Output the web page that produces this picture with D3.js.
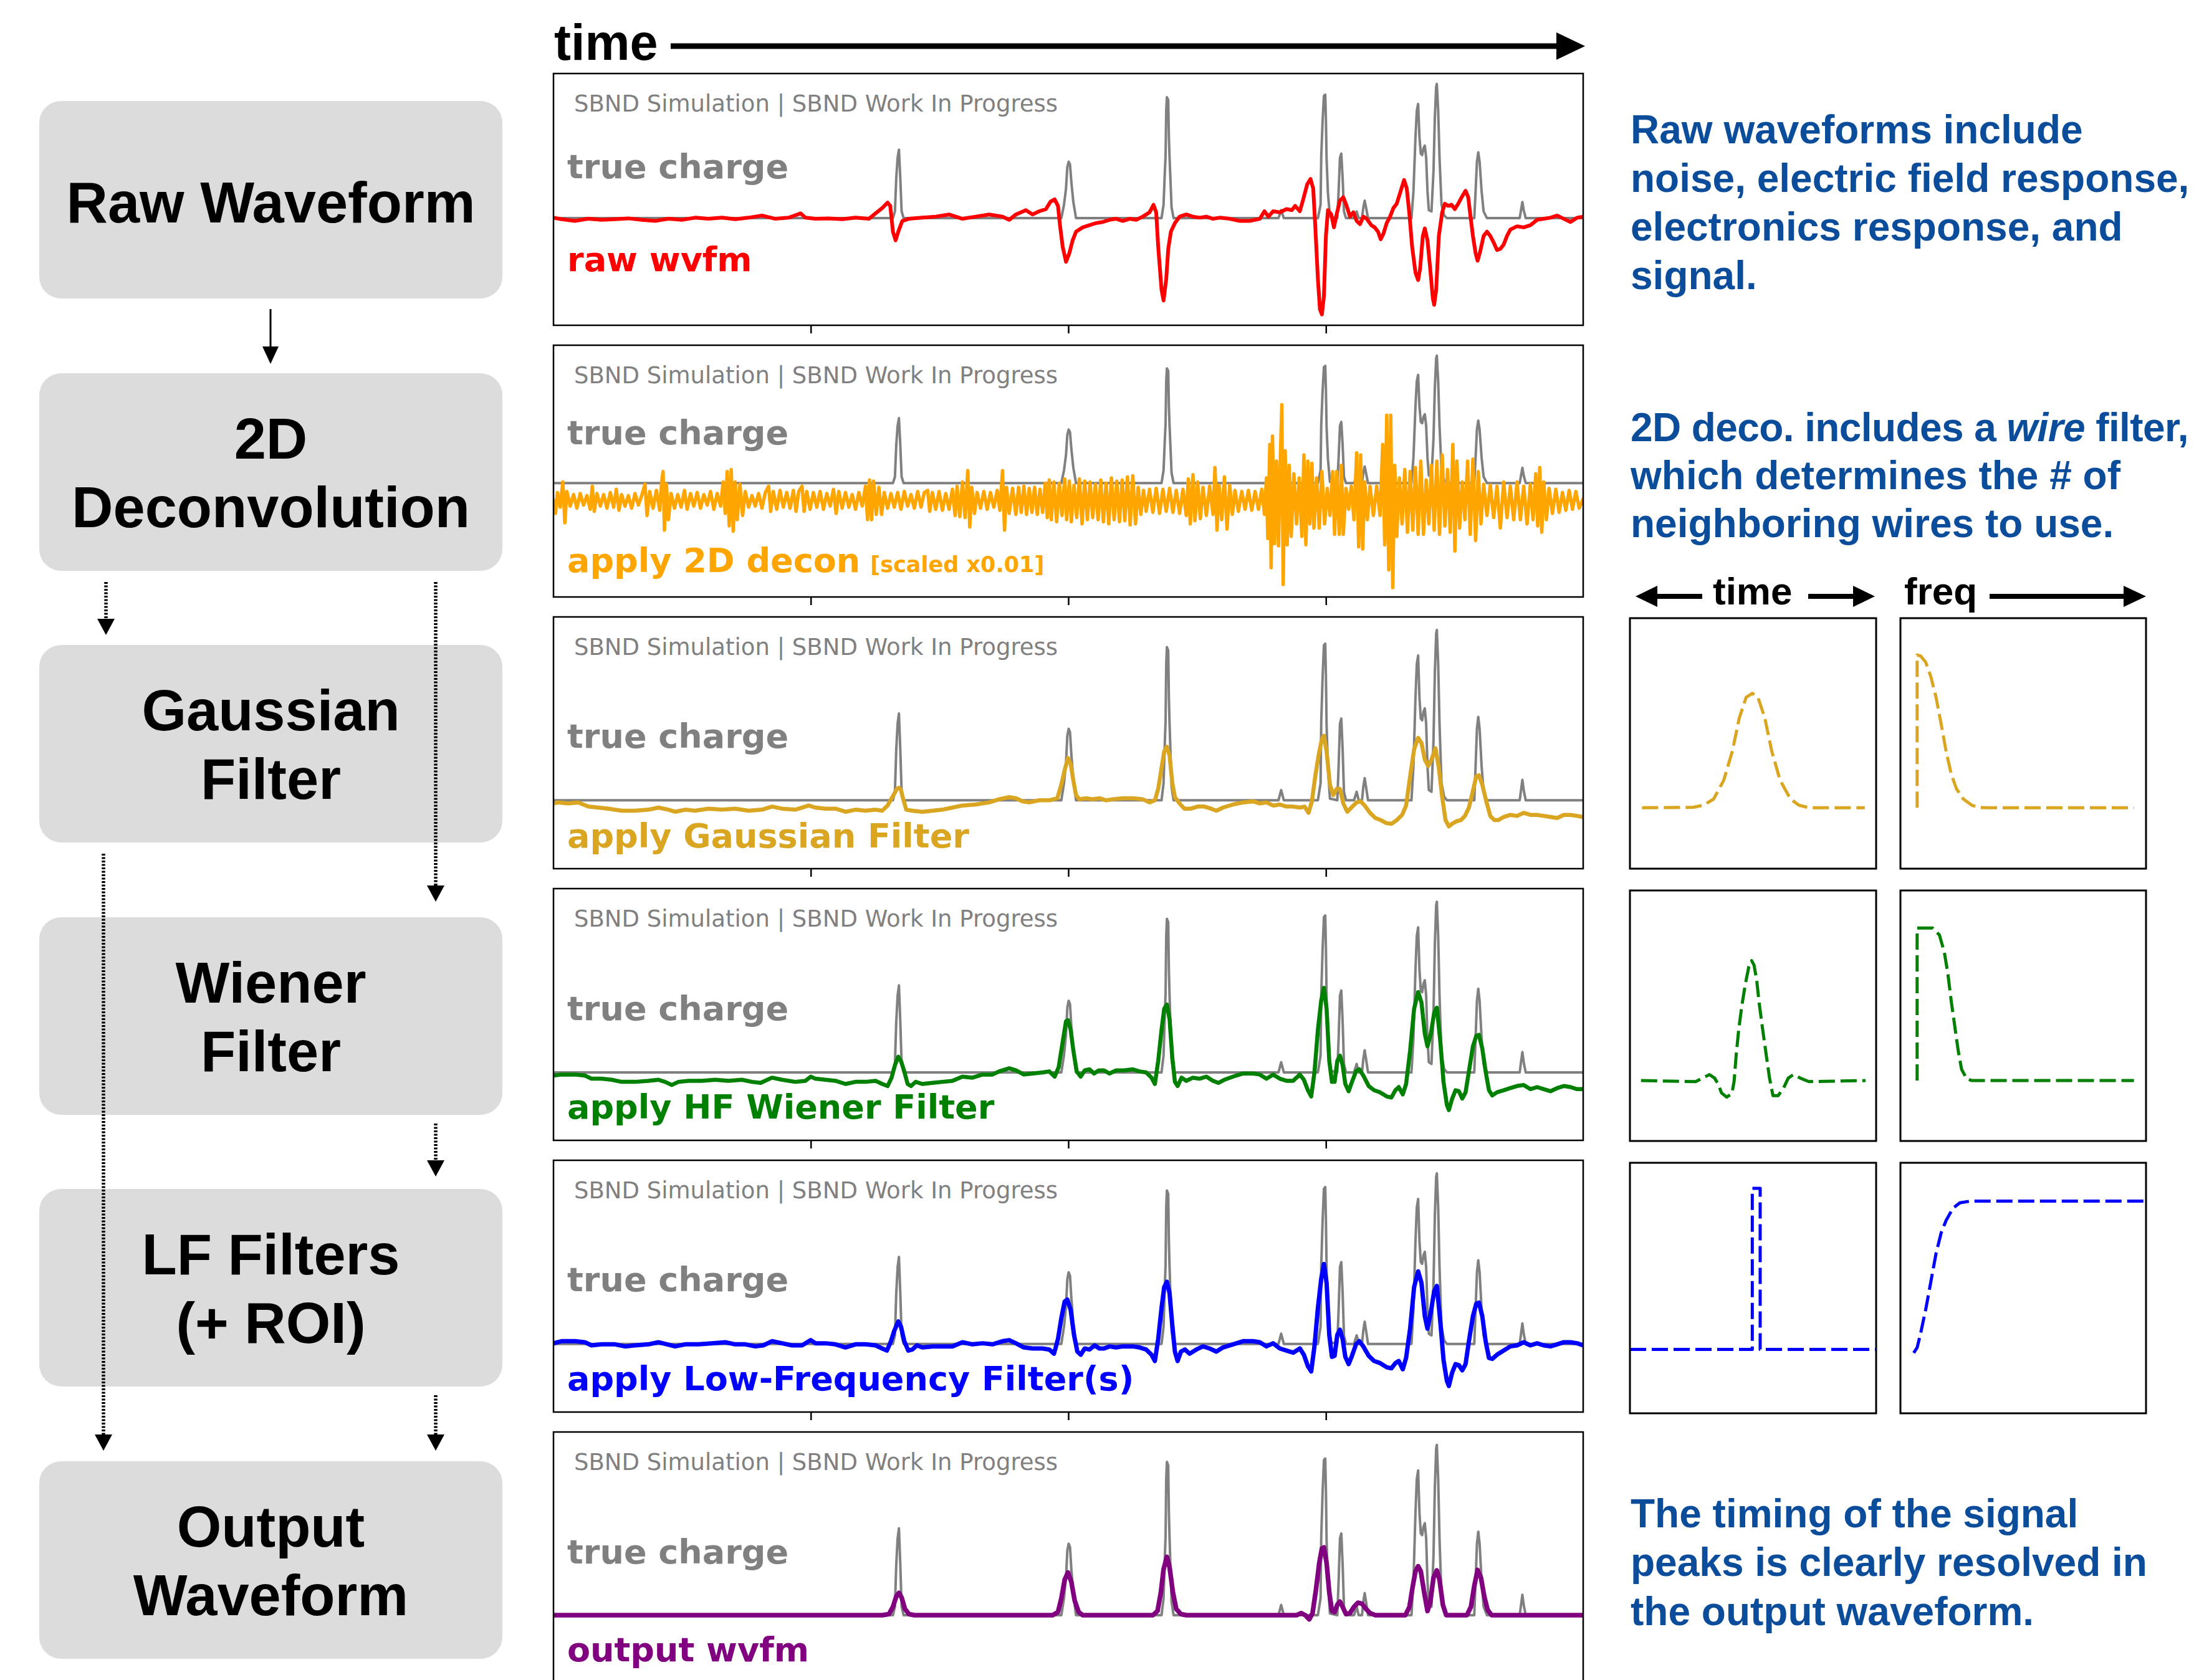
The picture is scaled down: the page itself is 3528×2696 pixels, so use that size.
<!DOCTYPE html>
<html><head><meta charset="utf-8">
<script src="https://cdn.jsdelivr.net/npm/d3@7"></script>
<style>body{margin:0;background:#fff}svg{display:block}</style>
</head><body>
<svg id="c" width="3528" height="2696"></svg>
<script>
// ---------------- DATA ----------------
const timeDomain = [8, 1549];
const timeTicks = [393, 778.5, 1164];

// true charge (normalised, tallest deposit = 1)
const trueCharge = [
[8,0],[516,0],[519,0.05],[521,0.3],[523,0.45],[525,0.51],[527,0.3],[529,0.05],[532,0],
[768,0],[772,0.1],[775,0.22],[777,0.38],[779,0.42],[781,0.40],[783,0.27],[786,0.12],[790,0],
[918,0],[921,0.1],[923,0.35],[924,0.46],[925,0.8],[926,0.9],[928,0.88],[929,0.6],[930,0.45],[933,0.08],[936,0],
[1093,0],[1097,0.06],[1101,0],
[1152,0],[1156,0.1],[1157,0.46],[1159,0.72],[1161,0.91],[1163,0.92],[1164,0.73],[1165,0.44],[1167,0.19],[1170,0.01],
[1181,0],[1183,0.2],[1185,0.45],[1187,0.48],[1189,0.3],[1191,0.05],[1194,0],
[1206,0],[1210,0.05],[1213,0],[1218,0],[1220,0.08],[1222,0.13],[1224,0.08],[1227,0],
[1292,0],[1295,0.2],[1298,0.6],[1300,0.8],[1302,0.85],[1304,0.6],[1306,0.48],[1308,0.47],[1310,0.52],[1312,0.54],[1314,0.45],[1316,0.2],[1318,0.06],[1322,0.05],[1325,0.35],[1327,0.75],[1329,0.98],[1330,1.0],[1332,0.8],[1334,0.45],[1337,0.1],[1341,0.02],[1345,0],
[1386,0],[1388,0.2],[1390,0.42],[1392,0.49],[1394,0.42],[1397,0.2],[1400,0.05],[1405,0],
[1454,0],[1456,0.06],[1458,0.12],[1460,0.06],[1463,0],[1549,0]
];

const rawWvfm = [
[8,2],[20,-5],[40,-13],[60,-3],[80,-8],[100,-5],[120,-1],[140,-8],[160,-13],[180,-3],[200,-8],[220,2],[240,-3],[260,2],[280,-5],[300,2],[320,12],[340,-3],[360,2],[378,22],[385,2],[400,-3],[420,-1],[440,-5],[460,2],[480,-3],[490,22],[500,47],[508,72],[512,57],[516,-63],[520,-103],[524,-63],[530,-13],[540,-3],[560,2],[580,7],[600,17],[620,-3],[640,7],[660,17],[680,7],[690,-8],[700,17],[715,37],[725,17],[735,32],[745,42],[752,77],[758,87],[763,57],[766,-33],[770,-133],[775,-203],[780,-163],[785,-103],[790,-63],[800,-43],[810,-33],[820,-23],[830,-18],[840,-8],[850,-3],[860,-13],[870,-3],[880,-8],[890,7],[900,27],[906,62],[910,27],[913,-133],[918,-333],[921,-383],[925,-283],[928,-143],[932,-63],[938,-23],[945,7],[955,17],[965,7],[975,2],[985,7],[995,-3],[1005,2],[1020,-3],[1035,-13],[1050,-13],[1065,-3],[1072,32],[1078,7],[1085,32],[1095,27],[1105,42],[1113,37],[1118,57],[1125,32],[1130,87],[1136,157],[1141,182],[1145,137],[1148,-33],[1152,-283],[1155,-423],[1158,-448],[1161,-363],[1164,-83],[1167,37],[1172,17],[1176,-43],[1180,17],[1185,82],[1190,97],[1195,57],[1200,7],[1205,27],[1210,-13],[1215,-28],[1220,7],[1225,-3],[1232,-33],[1237,-43],[1242,-63],[1246,-98],[1250,-73],[1255,-23],[1260,7],[1265,47],[1270,67],[1275,117],[1281,177],[1285,137],[1289,17],[1293,-133],[1298,-253],[1302,-288],[1305,-233],[1309,-83],[1312,-48],[1316,-103],[1320,-233],[1324,-373],[1326,-403],[1329,-333],[1333,-83],[1338,27],[1342,67],[1347,57],[1352,62],[1357,42],[1362,67],[1368,102],[1373,127],[1377,97],[1380,17],[1384,-83],[1388,-163],[1391,-198],[1395,-153],[1400,-83],[1405,-63],[1410,-83],[1415,-113],[1420,-148],[1425,-143],[1430,-123],[1435,-83],[1440,-53],[1450,-38],[1460,-43],[1470,-33],[1480,-8],[1490,-3],[1500,2],[1510,12],[1520,-3],[1530,-18],[1540,2],[1549,7]
];

const deconWvfm = [
[8,-80],[11,-145],[14,-45],[18,-115],[22,5],[25,-190],[28,-40],[33,-110],[38,-55],[43,-120],[48,-50],[53,-105],[58,-60],[63,-125],[66,-15],[69,-135],[73,-50],[78,-110],[83,-55],[88,-120],[93,-45],[98,-115],[102,-30],[106,-130],[110,-55],[115,-110],[120,-60],[125,-120],[130,-50],[135,-105],[140,-60],[145,-5],[148,-155],[152,-40],[157,-120],[162,-35],[167,-130],[170,10],[172,55],[174,-225],[177,-5],[180,-175],[184,-50],[189,-120],[194,-55],[199,-115],[204,-35],[208,-125],[213,-50],[218,-110],[223,-45],[228,-120],[233,-55],[238,-105],[243,-40],[248,-125],[253,-50],[258,-110],[262,5],[265,-145],[268,55],[271,-205],[274,65],[277,-230],[280,5],[283,-175],[287,-5],[291,-155],[295,-40],[300,-115],[305,-60],[310,-110],[315,-50],[320,-120],[325,-45],[330,-15],[333,-135],[337,-40],[342,-125],[347,-35],[352,-115],[357,-45],[362,-120],[367,-35],[371,-135],[375,-40],[380,-15],[383,-135],[387,-40],[392,-125],[397,-45],[402,-115],[407,-40],[412,-125],[417,-50],[422,-110],[427,-30],[431,-145],[435,-40],[440,-120],[445,-45],[450,-115],[455,-55],[460,-125],[465,-45],[470,-110],[475,-15],[478,-175],[481,15],[484,-175],[487,10],[491,-150],[495,-20],[499,-150],[503,-45],[508,-120],[513,-50],[518,-115],[523,-45],[528,-125],[533,-40],[538,-110],[543,-55],[548,-120],[553,-40],[558,-115],[563,-45],[568,-35],[571,-135],[575,-45],[580,-125],[585,-40],[590,-130],[595,-50],[600,-125],[605,-30],[609,-155],[612,-15],[616,-160],[620,5],[624,-165],[628,60],[631,-210],[634,-20],[638,-145],[642,-45],[647,-120],[652,-40],[657,-125],[662,-45],[667,-115],[672,-35],[676,-130],[680,60],[683,-225],[686,-20],[690,-145],[695,-25],[700,-150],[704,-20],[708,-140],[712,-15],[716,-150],[720,-25],[724,-140],[728,-20],[732,-150],[736,-30],[740,-140],[744,0],[747,-165],[750,15],[753,-175],[757,5],[761,-185],[765,0],[769,-155],[773,20],[776,-175],[780,10],[783,-185],[787,-10],[791,-165],[795,20],[799,-195],[803,10],[807,-175],[811,5],[815,-165],[819,-5],[823,-175],[827,15],[831,-185],[835,0],[839,-195],[843,25],[847,-175],[851,10],[855,-185],[859,15],[863,-180],[867,30],[871,-200],[875,35],[879,-195],[883,-20],[887,-150],[891,-35],[895,-135],[900,-30],[905,-140],[910,-25],[915,-145],[920,-30],[925,-135],[930,-25],[935,-140],[940,-35],[945,-145],[950,-30],[955,-155],[958,20],[961,-195],[965,40],[968,-180],[972,5],[976,-170],[980,-20],[985,-155],[990,-15],[995,-150],[998,75],[1001,-225],[1004,-10],[1008,-175],[1012,30],[1016,-220],[1020,-10],[1024,-150],[1028,-35],[1033,-135],[1038,-40],[1043,-125],[1048,-35],[1053,-130],[1058,-40],[1063,-125],[1068,-30],[1072,-150],[1075,25],[1077,-265],[1080,185],[1082,-405],[1084,225],[1087,-290],[1090,105],[1093,-300],[1096,145],[1098,375],[1100,-485],[1103,155],[1106,-295],[1109,85],[1112,-255],[1116,45],[1120,-195],[1124,25],[1128,-255],[1131,135],[1134,-295],[1137,105],[1140,-195],[1143,95],[1146,-215],[1150,25],[1154,-215],[1158,55],[1162,-195],[1166,-25],[1170,-155],[1174,55],[1177,-245],[1180,55],[1184,-245],[1187,85],[1190,-245],[1194,-25],[1198,-125],[1202,-15],[1206,-175],[1210,145],[1213,-305],[1216,135],[1219,-315],[1222,5],[1226,-175],[1230,-15],[1235,-155],[1240,-15],[1245,-155],[1249,185],[1252,-295],[1255,325],[1258,-415],[1261,325],[1264,-500],[1267,85],[1270,-255],[1274,25],[1278,-195],[1282,65],[1286,-235],[1290,55],[1294,-225],[1298,75],[1302,-245],[1306,105],[1310,-245],[1314,15],[1318,-195],[1322,85],[1326,-225],[1330,105],[1334,-245],[1338,135],[1342,-205],[1346,65],[1350,-235],[1354,185],[1357,-325],[1360,105],[1364,-215],[1368,5],[1372,-175],[1376,105],[1380,-245],[1384,115],[1388,-275],[1392,55],[1396,-195],[1400,-5],[1405,-155],[1410,-10],[1415,-165],[1420,-15],[1425,-215],[1430,5],[1435,-165],[1440,-15],[1445,-175],[1450,5],[1455,-175],[1460,-15],[1465,-195],[1470,-5],[1474,-175],[1478,45],[1481,-205],[1484,75],[1487,-235],[1490,5],[1494,-175],[1498,-25],[1503,-145],[1508,-30],[1513,-140],[1518,-45],[1523,-130],[1528,-35],[1533,-125],[1538,-40],[1543,-120],[1549,-75]
];

const gaussWvfm = [
[8,-15],[15,-10],[30,-15],[45,-10],[60,-30],[75,-35],[90,-40],[110,-50],[130,-50],[150,-45],[165,-35],[180,-45],[190,-55],[205,-45],[220,-50],[240,-40],[260,-45],[280,-40],[300,-50],[320,-45],[335,-30],[350,-40],[370,-45],[390,-25],[400,-35],[415,-40],[430,-40],[445,-55],[460,-45],[475,-50],[490,-45],[500,-50],[508,-25],[515,15],[522,55],[525,60],[528,50],[531,10],[536,-45],[545,-50],[560,-55],[575,-50],[590,-45],[605,-35],[620,-25],[640,-20],[660,-10],[675,5],[690,15],[700,10],[710,-5],[720,-10],[735,0],[750,0],[762,10],[768,75],[773,145],[778,203],[782,175],[786,95],[790,25],[795,5],[805,10],[815,5],[825,10],[835,0],[845,5],[860,10],[875,10],[890,5],[900,-10],[908,0],[913,55],[918,155],[922,235],[926,257],[930,215],[934,85],[938,15],[945,-15],[952,-40],[962,-40],[972,-30],[982,-30],[992,-40],[1000,-50],[1010,-35],[1025,-20],[1040,-10],[1055,-5],[1065,-15],[1075,-10],[1085,-25],[1095,-20],[1105,-30],[1115,-30],[1125,-35],[1132,-30],[1138,-60],[1143,-5],[1148,115],[1153,215],[1158,295],[1161,310],[1165,235],[1170,75],[1175,25],[1180,55],[1185,55],[1190,-15],[1196,-55],[1202,-35],[1210,-10],[1216,-5],[1222,-25],[1230,-60],[1238,-85],[1246,-95],[1255,-110],[1262,-113],[1270,-95],[1278,-70],[1284,-25],[1290,115],[1296,245],[1302,300],[1307,275],[1312,195],[1317,165],[1322,195],[1328,250],[1333,155],[1338,15],[1343,-95],[1348,-125],[1354,-110],[1360,-100],[1366,-95],[1372,-75],[1378,-35],[1384,45],[1389,115],[1393,120],[1398,75],[1404,-5],[1410,-75],[1416,-95],[1422,-95],[1430,-80],[1440,-70],[1450,-75],[1460,-60],[1470,-70],[1480,-70],[1490,-75],[1500,-80],[1510,-85],[1520,-70],[1530,-70],[1540,-75],[1549,-80]
];

const wienerWvfm = [
[8,-15],[20,-10],[40,-10],[55,-15],[65,-30],[80,-30],[95,-35],[110,-45],[130,-45],[150,-40],[165,-35],[175,-45],[185,-60],[195,-45],[210,-40],[230,-40],[250,-35],[270,-40],[290,-35],[305,-45],[318,-50],[335,-25],[350,-35],[370,-45],[385,-40],[393,-20],[400,-30],[415,-35],[430,-40],[445,-55],[460,-45],[475,-45],[490,-40],[500,-55],[508,-65],[514,-25],[519,35],[524,75],[528,55],[533,5],[538,-55],[543,-65],[550,-45],[560,-55],[575,-50],[590,-45],[605,-40],[620,-20],[635,-25],[650,-10],[665,-10],[675,5],[690,20],[700,10],[712,-10],[725,-5],[740,0],[750,5],[758,-20],[764,25],[769,125],[775,245],[778,250],[782,205],[786,105],[791,5],[797,-20],[803,10],[810,15],[817,-5],[824,10],[832,10],[840,-5],[850,10],[862,10],[875,15],[885,5],[895,0],[903,-25],[908,-55],[913,55],[918,205],[922,305],[926,325],[930,255],[934,75],[938,-45],[942,-65],[948,-25],[955,-40],[965,-25],[975,-30],[985,-20],[995,-40],[1003,-50],[1012,-35],[1025,-20],[1040,-5],[1055,-5],[1065,-10],[1075,-30],[1085,-10],[1095,-30],[1105,-40],[1115,-40],[1125,-10],[1131,-35],[1137,-85],[1142,-115],[1147,5],[1152,205],[1157,345],[1161,405],[1165,305],[1169,55],[1173,-45],[1177,-45],[1181,55],[1185,80],[1189,35],[1193,-55],[1198,-90],[1203,-45],[1209,5],[1214,15],[1220,-15],[1228,-65],[1236,-85],[1245,-95],[1255,-115],[1262,-120],[1268,-85],[1273,-70],[1279,-105],[1284,-55],[1290,105],[1296,305],[1302,385],[1307,335],[1312,185],[1316,125],[1321,185],[1326,285],[1330,310],[1335,155],[1340,-45],[1345,-155],[1348,-180],[1353,-125],[1358,-85],[1363,-90],[1368,-125],[1373,-95],[1378,5],[1384,125],[1389,175],[1393,180],[1398,115],[1403,5],[1408,-85],[1413,-110],[1420,-95],[1430,-85],[1440,-75],[1450,-65],[1460,-60],[1470,-80],[1480,-70],[1490,-80],[1500,-90],[1510,-75],[1520,-65],[1530,-70],[1540,-80],[1549,-80]
];

const lfWvfm = [
[8,3],[20,13],[40,13],[55,8],[65,-7],[80,-2],[100,-2],[115,-12],[130,-7],[150,-2],[165,8],[178,-2],[190,-12],[205,-2],[225,-2],[245,3],[265,8],[280,-2],[295,-2],[310,-12],[322,-7],[335,13],[350,3],[365,-7],[380,-7],[393,18],[400,3],[415,3],[430,-2],[445,-17],[460,-2],[475,-2],[490,-7],[500,-22],[507,-32],[513,13],[518,63],[524,108],[528,83],[533,13],[539,-32],[545,-27],[552,-7],[560,-17],[575,-12],[590,-12],[605,-12],[620,8],[635,-2],[650,3],[665,-2],[680,13],[690,18],[700,3],[712,-17],[725,-22],[740,-22],[750,-27],[757,-47],[763,23],[768,123],[773,203],[777,213],[782,163],[787,43],[792,-37],[797,-52],[803,-22],[810,-27],[818,-7],[825,-22],[832,-22],[840,-12],[850,-17],[860,-12],[875,-12],[885,-17],[895,-27],[903,-52],[908,-82],[913,23],[918,173],[922,273],[926,298],[930,243],[934,93],[938,-37],[942,-82],[947,-37],[953,-27],[960,-47],[970,-27],[980,-12],[990,-22],[1000,-37],[1010,-17],[1025,-2],[1040,13],[1055,13],[1065,8],[1075,-12],[1085,3],[1095,-22],[1105,-32],[1115,-42],[1125,-22],[1131,-52],[1137,-107],[1142,-132],[1147,-7],[1152,173],[1157,313],[1161,383],[1165,293],[1169,43],[1173,-62],[1177,-57],[1181,43],[1185,68],[1189,23],[1193,-62],[1198,-97],[1203,-57],[1209,-2],[1214,13],[1220,-12],[1228,-57],[1236,-82],[1245,-92],[1255,-112],[1262,-117],[1268,-92],[1273,-82],[1279,-122],[1284,-67],[1290,73],[1296,273],[1302,348],[1307,293],[1312,133],[1316,73],[1321,153],[1326,253],[1330,278],[1335,113],[1340,-77],[1345,-177],[1348,-202],[1353,-137],[1358,-97],[1363,-102],[1368,-127],[1373,-97],[1378,13],[1384,133],[1389,193],[1393,198],[1398,133],[1403,13],[1408,-67],[1413,-72],[1420,-52],[1430,-32],[1440,-12],[1450,-7],[1460,8],[1470,-7],[1480,3],[1490,-7],[1500,-12],[1510,-2],[1520,8],[1530,8],[1540,3],[1549,-7]
];

const outputWvfm = [
[8,0],[500,0],[510,5],[516,40],[521,90],[525,107],[529,85],[534,30],[540,5],[548,0],[755,0],[763,15],[768,80],[773,170],[778,205],[783,160],[788,70],[794,15],[800,0],[905,0],[912,20],[917,110],[921,220],[926,280],[930,230],[935,110],[940,30],[947,5],[955,0],[1120,0],[1127,10],[1133,0],[1139,-20],[1144,10],[1149,120],[1154,250],[1158,320],[1161,325],[1165,250],[1169,110],[1173,20],[1177,15],[1181,50],[1185,65],[1189,40],[1194,5],[1200,10],[1206,40],[1212,60],[1218,55],[1224,30],[1230,10],[1238,0],[1283,0],[1289,40],[1294,140],[1298,210],[1302,235],[1306,210],[1311,110],[1316,20],[1320,60],[1325,180],[1330,215],[1334,170],[1339,50],[1344,0],[1375,0],[1381,40],[1386,140],[1391,217],[1396,180],[1401,90],[1406,25],[1412,0],[1549,0]
];

const waveSeries = [rawWvfm, deconWvfm, gaussWvfm, wienerWvfm, lfWvfm, outputWvfm];
const waveLabels = ["raw wvfm", "apply 2D decon", "apply Gaussian Filter", "apply HF Wiener Filter", "apply Low-Frequency Filter(s)", "output wvfm"];
const yDomains = [[-498,672],[-545,660],[-328,880],[-325,880],[-327,881],[-329,879]];
const truthScales = [624, 610, 817, 817, 818, 817];

const stageNames = [["Raw Waveform"],["2D","Deconvolution"],["Gaussian","Filter"],["Wiener","Filter"],["LF Filters","(+ ROI)"],["Output","Waveform"]];

// filter shapes (x: % of window, y: % of window height)
const gaussTime = [[4.9,24.3],[25.7,24.5],[29.8,25.3],[34.0,27.8],[38.1,35.3],[41.6,46.9],[44.4,60.1],[47.2,68.4],[49.7,70.0],[52.0,68.4],[54.8,60.1],[57.6,46.9],[61.0,35.3],[65.2,27.8],[68.7,25.3],[72.8,24.3],[95.4,24.3]];
const gaussFreq = [[6.8,24.3],[6.8,85.3],[8.2,84.9],[10.3,82.4],[12.4,76.6],[14.5,68.4],[16.6,57.6],[18.6,46.8],[20.7,37.7],[22.8,31.9],[25.6,27.8],[29.1,25.3],[32.5,24.4],[36.7,24.3],[95.1,24.3]];
const wienerTime = [[4.5,24.1],[26.7,23.7],[29.5,25.1],[32.3,26.5],[34.4,25.1],[35.8,22.8],[37.2,19.2],[39.3,17.5],[41.4,18.9],[42.3,23.7],[43.2,34.8],[44.2,44.6],[45.5,54.3],[46.9,62.7],[48.3,69.6],[49.4,72.0],[50.4,70.3],[51.5,64.1],[52.5,55.0],[53.9,44.6],[55.3,34.8],[56.7,25.1],[58.1,18.1],[60.2,18.1],[62.3,20.9],[64.3,25.1],[66.4,26.5],[69.2,25.1],[72.7,23.7],[95.7,24.1]];
const wienerFreq = [[6.8,24.1],[6.8,85.0],[13.1,85.0],[15.9,82.2],[17.9,75.2],[19.3,66.9],[20.7,55.7],[22.1,46.0],[23.5,36.2],[24.9,28.6],[27.0,24.8],[29.1,24.1],[95.1,24.1]];
const lfTime = [[0,25.5],[49.7,25.5],[49.7,89.8],[52.9,89.8],[52.9,25.5],[100,25.5]];
const lfFreq = [[5.4,24.1],[6.8,26.2],[8.2,31.8],[10.3,41.5],[12.4,52.6],[14.5,63.8],[16.6,72.1],[18.6,77.0],[21.4,81.9],[24.2,84.0],[28.4,84.7],[36.7,84.7],[100,84.7]];
const filterRows = [[gaussTime, gaussFreq],[wienerTime, wienerFreq],[lfTime, lfFreq]];

const noteBlocks = [
  [["Raw waveforms include"],["noise, electric field response,"],["electronics response, and"],["signal."]],
  [["2D deco. includes a ", ["wire"], " filter,"],["which determines the # of"],["neighboring wires to use."]],
  [["The timing of the signal"],["peaks is clearly resolved in"],["the output waveform."]]
];

// ---------------- STYLE / LAYOUT ----------------
const waveColors = ["#ff0000", "#ffa500", "#daa520", "#008000", "#0000ff", "#800080"];
const waveWidths = [6, 5.5, 6.5, 6.5, 7, 7.5];
const filterColors = ["#daa520", "#008000", "#0000ff"];
const panelLeft = 888, panelRight = 2540, panelH = 404;
const panelTops = [118, 554, 990, 1426, 1862, 2298];
const trueLabelDy = [168, 159, 210, 211, 210, 211];
const waveLabelDy = [317, 364, 370, 369, 369, 368];
const boxTops = [162, 599, 1035, 1472, 1908, 2345];
const noteBaselines = [[230, 308, 386, 464], [708, 785, 862], [2451, 2529, 2608]];
const noteColor = "#0b4d9b";
const sansBold = "'Liberation Sans', Arial, Helvetica, sans-serif";
const mpl = "'DejaVu Sans', sans-serif";

const svg = d3.select("#c");
const x = d3.scaleLinear().domain(timeDomain).range([panelLeft, panelRight]);
const defs = svg.append("defs");

// ---------------- MAIN PANELS ----------------
waveSeries.forEach((series, i) => {
  const pTop = panelTops[i];
  const y = d3.scaleLinear().domain(yDomains[i]).range([pTop + panelH, pTop]);
  const g = svg.append("g");
  defs.append("clipPath").attr("id", "clip" + i).append("rect")
    .attr("x", panelLeft).attr("y", pTop).attr("width", panelRight - panelLeft).attr("height", panelH);
  const plot = g.append("g").attr("clip-path", `url(#clip${i})`);
  const tline = d3.line().x(d => x(d[0])).y(d => y(d[1] * truthScales[i]));
  plot.append("path").datum(trueCharge).attr("d", tline)
    .attr("fill", "none").attr("stroke", "#808080").attr("stroke-width", 4).attr("stroke-linejoin", "round");
  const wline = d3.line().x(d => x(d[0])).y(d => y(d[1]));
  plot.append("path").datum(series).attr("d", wline)
    .attr("fill", "none").attr("stroke", waveColors[i]).attr("stroke-width", waveWidths[i])
    .attr("stroke-linejoin", "round").attr("stroke-linecap", "round");

  g.append("rect").attr("x", panelLeft).attr("y", pTop).attr("width", panelRight - panelLeft).attr("height", panelH)
    .attr("fill", "none").attr("stroke", "#000").attr("stroke-width", 2.5);
  const ax = g.append("g").attr("transform", `translate(0,${pTop + panelH})`)
    .call(d3.axisBottom(x).tickValues(timeTicks).tickSize(13).tickFormat(""));
  ax.select(".domain").remove();
  ax.selectAll(".tick line").attr("stroke", "#000").attr("stroke-width", 2.5);

  g.append("text").attr("x", 921).attr("y", pTop + 61).text("SBND Simulation | SBND Work In Progress")
    .attr("font-family", mpl).attr("font-size", 37).attr("fill", "#808080");
  g.append("text").attr("x", 910).attr("y", pTop + trueLabelDy[i]).text("true charge")
    .attr("font-family", mpl).attr("font-weight", "bold").attr("font-size", 54).attr("fill", "#808080");
  const wl = g.append("text").attr("x", 910).attr("y", pTop + waveLabelDy[i])
    .attr("font-family", mpl).attr("font-weight", "bold").attr("font-size", 54).attr("fill", waveColors[i])
    .text(waveLabels[i]);
  if (i === 1) {
    wl.append("tspan").attr("font-size", 35).attr("dx", 16).text("[scaled x0.01]");
  }
});

function arrowHead(g, tipX, tipY, dir, len, half) {
  let pts;
  if (dir === 'r') pts = [[tipX, tipY], [tipX - len, tipY - half], [tipX - len, tipY + half]];
  else if (dir === 'l') pts = [[tipX, tipY], [tipX + len, tipY - half], [tipX + len, tipY + half]];
  else pts = [[tipX, tipY], [tipX - half, tipY - len], [tipX + half, tipY - len]];
  g.append("polygon").attr("points", pts.map(p => p.join(",")).join(" ")).attr("fill", "#000");
}
const headerG = svg.append("g");
headerG.append("text").attr("x", 889).attr("y", 96).text("time")
  .attr("font-family", sansBold).attr("font-weight", "bold").attr("font-size", 81).attr("fill", "#000");
headerG.append("line").attr("x1", 1076).attr("x2", 2500).attr("y1", 74).attr("y2", 74).attr("stroke", "#000").attr("stroke-width", 9);
arrowHead(headerG, 2543, 74, 'r', 46, 22);

// ---------------- LEFT FLOW BOXES ----------------
const boxes = svg.append("g");
stageNames.forEach((lines, i) => {
  const t = boxTops[i];
  boxes.append("rect").attr("x", 63).attr("y", t).attr("width", 743).attr("height", 317).attr("rx", 35).attr("ry", 35)
    .attr("fill", "#dcdcdc");
  const baselines = lines.length === 1 ? [t + 195] : [t + 137, t + 247];
  lines.forEach((s, j) => {
    boxes.append("text").attr("x", 434.5).attr("y", baselines[j]).attr("text-anchor", "middle").text(s)
      .attr("font-family", sansBold).attr("font-weight", "bold").attr("font-size", 92).attr("fill", "#000");
  });
});
boxes.append("line").attr("x1", 434).attr("x2", 434).attr("y1", 496).attr("y2", 560).attr("stroke", "#000").attr("stroke-width", 3);
arrowHead(boxes, 434, 584, 'd', 28, 13);
const dotted = [[170, 934, 1019], [699, 934, 1447], [166, 1370, 2328], [699, 1803, 1888], [699, 2239, 2328]];
dotted.forEach(([xx, y1, y2]) => {
  boxes.append("line").attr("x1", xx).attr("x2", xx).attr("y1", y1).attr("y2", y2 - 22)
    .attr("stroke", "#000").attr("stroke-width", 5.5).attr("stroke-dasharray", "3,2.5");
  arrowHead(boxes, xx, y2, 'd', 26, 14);
});

// ---------------- FILTER WINDOWS ----------------
const fw = svg.append("g");
const smallTops = [992, 1429, 1866], smallH = 402;
const smallX = [[2615, 3010], [3049, 3443]];
filterRows.forEach((row, r) => {
  row.forEach((data, c) => {
    const [x0, x1] = smallX[c];
    const t = smallTops[r];
    const sx = d3.scaleLinear().domain([0, 100]).range([x0, x1]);
    const sy = d3.scaleLinear().domain([0, 100]).range([t + smallH, t]);
    fw.append("path").datum(data).attr("d", d3.line().x(d => sx(d[0])).y(d => sy(d[1])))
      .attr("fill", "none").attr("stroke", filterColors[r]).attr("stroke-width", 5)
      .attr("stroke-dasharray", "26,9").attr("stroke-linejoin", "round");
    fw.append("rect").attr("x", x0).attr("y", t).attr("width", x1 - x0).attr("height", smallH)
      .attr("fill", "none").attr("stroke", "#000").attr("stroke-width", 3);
  });
});
fw.append("line").attr("x1", 2655).attr("x2", 2731).attr("y1", 957).attr("y2", 957).attr("stroke", "#000").attr("stroke-width", 8);
arrowHead(fw, 2624, 957, 'l', 35, 17);
fw.append("line").attr("x1", 2901).attr("x2", 2977).attr("y1", 957).attr("y2", 957).attr("stroke", "#000").attr("stroke-width", 8);
arrowHead(fw, 3008, 957, 'r', 35, 17);
fw.append("line").attr("x1", 3192).attr("x2", 3410).attr("y1", 957).attr("y2", 957).attr("stroke", "#000").attr("stroke-width", 8);
arrowHead(fw, 3443, 957, 'r', 36, 17);
fw.append("text").attr("x", 2748).attr("y", 970).text("time")
  .attr("font-family", sansBold).attr("font-weight", "bold").attr("font-size", 62).attr("fill", "#000");
fw.append("text").attr("x", 3055).attr("y", 970).text("freq")
  .attr("font-family", sansBold).attr("font-weight", "bold").attr("font-size", 62).attr("fill", "#000");

// ---------------- NOTES ----------------
const notes = svg.append("g");
noteBlocks.forEach((block, b) => {
  block.forEach((parts, l) => {
    const t = notes.append("text").attr("x", 2616).attr("y", noteBaselines[b][l])
      .attr("font-family", sansBold).attr("font-weight", "bold").attr("font-size", 64).attr("fill", noteColor);
    if (b === 1 && l === 0) t.attr("letter-spacing", -0.6);
    parts.forEach(p => {
      if (Array.isArray(p)) t.append("tspan").attr("font-style", "italic").text(p[0]);
      else t.append("tspan").text(p);
    });
  });
});
</script>
</body></html>
